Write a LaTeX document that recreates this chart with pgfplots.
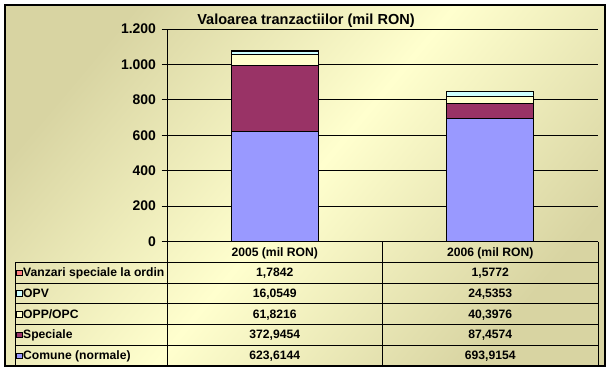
\documentclass[border=0pt]{standalone}
\usepackage{pgfplots}
\pgfplotsset{compat=1.18}
\usepackage{fontspec}
\setmainfont{Liberation Sans}
\definecolor{comune}{HTML}{9999FF}
\definecolor{speciale}{HTML}{993366}
\definecolor{opp}{HTML}{FFFFCC}
\definecolor{opv}{HTML}{CCFFFF}
\definecolor{vanz}{HTML}{FF8080}
\definecolor{bgtan}{HTML}{D8D4A2}
\definecolor{bglight}{HTML}{FFFFCE}
\newcommand{\tfont}{\bfseries\fontsize{12.2}{13}\selectfont}
\begin{document}
\begin{tikzpicture}[x=1bp,y=1bp]
\useasboundingbox (0,0) rectangle (612,372);
\fill[white] (0,0) rectangle (612,372);
\shade[shading=axis, top color=bgtan, bottom color=bgtan, middle color=bglight, shading angle=50] (5,6) rectangle (605,367);
\draw[black, line width=1.2bp] (5,6) rectangle (605,367);
\begin{axis}[
  at={(167bp,130.5bp)}, anchor=south west, scale only axis,
  width=431bp, height=212.5bp,
  ybar stacked, bar width=87bp,
  xmin=-0.5, xmax=1.5, ymin=0, ymax=1200,
  xtick=\empty,
  ytick={0,200,400,600,800,1000,1200},
  yticklabels={0,200,400,600,800,1.000,1.200},
  axis x line=none, axis y line*=left,
  y axis line style={-, black, line width=0.9bp},
  ymajorgrids, grid style={black, line width=0.9bp},
  tick align=outside, major tick length=5.5bp,
  tick style={black, line width=0.9bp},
  yticklabel style={font=\bfseries\fontsize{14}{14}\selectfont, xshift=-2bp},
  clip=false,
  every axis plot/.append style={draw=black, line width=0.9bp},
]
\addplot[fill=comune] coordinates {(0,623.6144) (1,693.9154)};
\addplot[fill=speciale] coordinates {(0,372.9454) (1,87.4574)};
\addplot[fill=opp] coordinates {(0,61.8216) (1,40.3976)};
\addplot[fill=opv] coordinates {(0,16.0549) (1,24.5353)};
\addplot[fill=vanz] coordinates {(0,1.7842) (1,1.5772)};
\end{axis}
% title
\node[anchor=base, font=\bfseries\fontsize{14.6}{15}\selectfont, inner sep=0] at (306,348) {Valoarea tranzactiilor (mil RON)};
% data table
\begin{scope}[line width=0.9bp]
\draw (167,130.5) -- (598,130.5);
\draw (167,130.5) -- (167,6);
\draw (382.5,130.5) -- (382.5,6);
\draw (598,130.5) -- (598,6);
\draw (15,109.5) -- (15,6);
\foreach \yy in {109.5,89,68.5,47.5,27} {\draw (15,\yy) -- (598,\yy);}
\draw (5,6) -- (605,6);
\end{scope}
\node[anchor=base, font=\tfont, inner sep=0] at (274.75,116) {2005 (mil RON)};
\node[anchor=base, font=\tfont, inner sep=0] at (490.25,116) {2006 (mil RON)};
% rows
\foreach \yc/\col/\lab/\va/\vb in {
  99.25/vanz/Vanzari speciale la ordin/{1,7842}/{1,5772},
  78.75/opv/OPV/{16,0549}/{24,5353},
  58/opp/OPP\slash OPC/{61,8216}/{40,3976},
  37.25/speciale/Speciale/{372,9454}/{87,4574},
  16.5/comune/Comune (normale)/{623,6144}/{693,9154}} {
  \draw[fill=\col, line width=0.6bp] (16.5,\yc-2.8) rectangle (22,\yc+2.7);
  \node[anchor=base west, font=\tfont, inner sep=0] at (23,\yc-4.2) {\lab};
  \node[anchor=base, font=\tfont, inner sep=0] at (274.75,\yc-4.2) {\va};
  \node[anchor=base, font=\tfont, inner sep=0] at (490.25,\yc-4.2) {\vb};
}
\end{tikzpicture}
\end{document}
